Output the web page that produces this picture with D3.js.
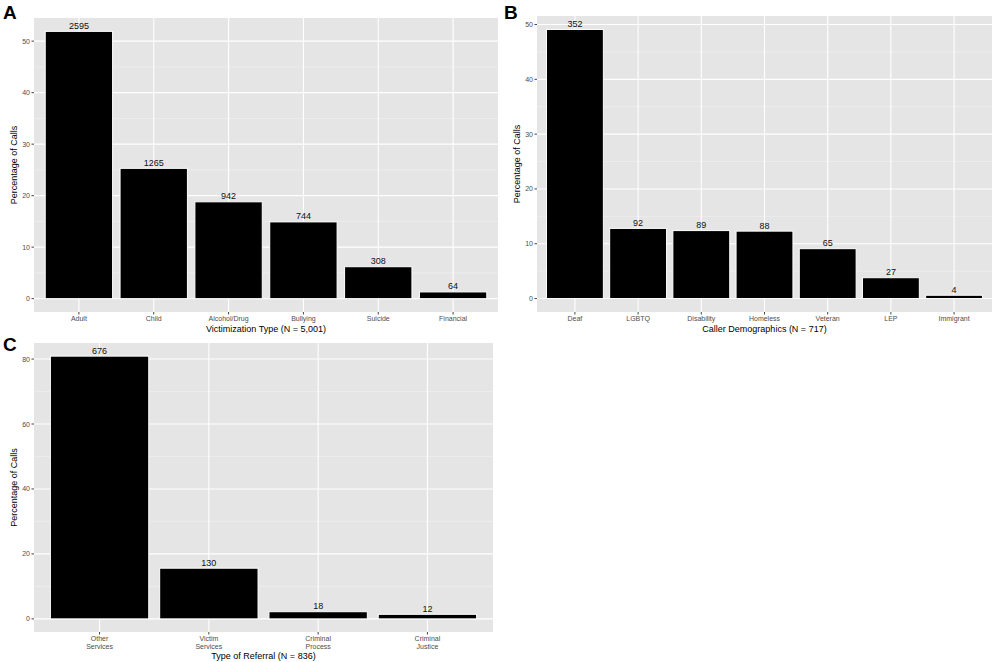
<!DOCTYPE html>
<html><head><meta charset="utf-8">
<script src="https://cdn.jsdelivr.net/npm/d3@7"></script>
<style>body{margin:0;background:#fff}text{font-family:"Liberation Sans",Arial,sans-serif}</style>
</head><body>
<script>
const catsA = ["Adult","Child","Alcohol/Drug","Bullying","Suicide","Financial"];
const pctA = [51.9,25.3,18.8,14.9,6.2,1.3];
const nA = [2595,1265,942,744,308,64];
const catsB = ["Deaf","LGBTQ","Disability","Homeless","Veteran","LEP","Immigrant"];
const pctB = [49.1,12.8,12.4,12.3,9.1,3.8,0.6];
const nB = [352,92,89,88,65,27,4];
const catsC = ["Other\nServices","Victim\nServices","Criminal\nProcess","Criminal\nJustice"];
const pctC = [80.9,15.6,2.2,1.4];
const nC = [676,130,18,12];
const ticksA = [0,10,20,30,40,50], ticksB = [0,10,20,30,40,50], ticksC = [0,20,40,60,80];

const svg = d3.select("body").append("svg").attr("width",1000).attr("height",662);

function panel(o){
  const g = svg.append("g");
  const max = d3.max(o.pct), ex = max*0.05;
  const y = d3.scaleLinear().domain([-ex,max+ex]).range([o.b,o.t]);
  const n = o.cats.length;
  const x = d3.scaleLinear().domain([0.4,n+0.6]).range([o.l,o.r]);
  g.append("rect").attr("x",o.l).attr("y",o.t).attr("width",o.r-o.l).attr("height",o.b-o.t).attr("fill","#e5e5e5");
  const step = o.ticks[1]-o.ticks[0];
  g.selectAll(".mn").data(o.ticks.map(t=>t+step/2).filter(t=>y(t)>o.t)).join("line")
    .attr("x1",o.l).attr("x2",o.r).attr("y1",d=>y(d)).attr("y2",d=>y(d)).attr("stroke","#f2f2f2").attr("stroke-width",0.6);
  g.selectAll(".mj").data(o.ticks).join("line")
    .attr("x1",o.l).attr("x2",o.r).attr("y1",d=>y(d)).attr("y2",d=>y(d)).attr("stroke","#fff").attr("stroke-width",1.1);
  g.selectAll(".vx").data(d3.range(1,n+1)).join("line")
    .attr("x1",d=>x(d)).attr("x2",d=>x(d)).attr("y1",o.t).attr("y2",o.b).attr("stroke","#fff").attr("stroke-width",1.1);
  g.selectAll(".bar").data(o.pct).join("rect")
    .attr("x",(d,i)=>x(i+1-0.45)).attr("width",x(1.9)-x(1)).attr("y",d=>y(d)).attr("height",d=>y(0)-y(d))
    .attr("fill","#000").attr("stroke","#fff").attr("stroke-width",1);
  g.selectAll(".lab").data(o.nums).join("text")
    .attr("x",(d,i)=>x(i+1)).attr("y",(d,i)=>y(o.pct[i])-2.5).attr("text-anchor","middle")
    .attr("font-size",9).attr("fill","#111").text(d=>d);
  g.selectAll(".yt").data(o.ticks).join("line").attr("x1",o.l-2.5).attr("x2",o.l).attr("y1",d=>y(d)).attr("y2",d=>y(d)).attr("stroke","#444");
  g.selectAll(".yl").data(o.ticks).join("text").attr("x",o.l-4).attr("y",d=>y(d)+2.5).attr("text-anchor","end")
    .attr("font-size",7).attr("fill","#4d4d4d").text(d=>d);
  g.selectAll(".xt").data(d3.range(1,n+1)).join("line").attr("x1",d=>x(d)).attr("x2",d=>x(d)).attr("y1",o.b).attr("y2",o.b+2.5).attr("stroke","#444");
  const xl = g.selectAll(".xl").data(o.cats).join("text").attr("text-anchor","middle").attr("font-size",7).attr("fill","#4d4d4d");
  xl.each(function(d,i){
    d.split("\n").forEach((s,k)=>d3.select(this).append("tspan").attr("x",x(i+1)).attr("y",o.b+9+k*7.5).text(s));
  });
  g.append("text").attr("x",(o.l+o.r)/2).attr("y",o.xty).attr("text-anchor","middle").attr("font-size",9).text(o.xt);
  g.append("text").attr("transform",`translate(${o.l-17},${(o.t+o.b)/2}) rotate(-90)`).attr("text-anchor","middle")
    .attr("font-size",9).text("Percentage of Calls");
  g.append("text").attr("x",o.lx).attr("y",o.ly).attr("font-size",19).attr("font-weight","bold").text(o.letter);
}

panel({cats:catsA,pct:pctA,nums:nA,ticks:ticksA,l:34,r:498,t:18,b:312,xt:"Victimization Type (N = 5,001)",xty:332,letter:"A",lx:3,ly:19});
panel({cats:catsB,pct:pctB,nums:nB,ticks:ticksB,l:537,r:992,t:16,b:312,xt:"Caller Demographics (N = 717)",xty:332,letter:"B",lx:504,ly:19});
panel({cats:catsC,pct:pctC,nums:nC,ticks:ticksC,l:34,r:493,t:343,b:632,xt:"Type of Referral (N = 836)",xty:659,letter:"C",lx:3,ly:351});
</script>
</body></html>
